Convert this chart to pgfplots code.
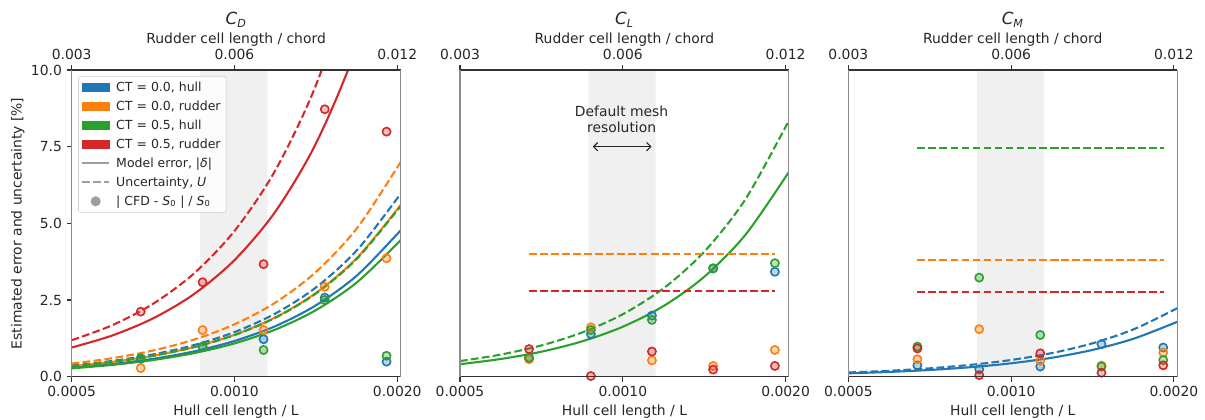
\documentclass[border=0pt]{standalone}
\usepackage{fontspec}
\setmainfont{DejaVu Sans}
\usepackage{pgfplots}
\pgfplotsset{compat=1.18}
\usetikzlibrary{arrows.meta}
\definecolor{c0}{HTML}{1F77B4}
\definecolor{c1}{HTML}{FF7F0E}
\definecolor{c2}{HTML}{2CA02C}
\definecolor{c3}{HTML}{D62728}
\definecolor{txt}{HTML}{262626}
\definecolor{shade}{HTML}{F0F0F0}
\definecolor{leggray}{HTML}{9E9E9E}
\tikzset{
  toplab/.style={anchor=base, yshift=7.2pt, font=\fontsize{10}{12}\selectfont, text=txt},
  topxl/.style={anchor=base, yshift=19.2pt, font=\fontsize{10}{12}\selectfont, text=txt},
  toptitle/.style={anchor=base, yshift=32.4pt, font=\fontsize{12}{14}\selectfont, text=txt},
}
\pgfplotsset{
  sol/.style={line width=1.5pt, smooth, forget plot},
  das/.style={line width=1.5pt, smooth, forget plot, dash pattern=on 5.55pt off 2.4pt},
  pts/.style={only marks, forget plot, mark=*, mark size=2.95pt, mark options={draw=#1, fill=#1, fill opacity=0.3, line width=1.15pt}},
  shd/.style={fill=shade, draw=none, forget plot},
}
\begin{document}
\begin{tikzpicture}
\useasboundingbox (0,0) rectangle (867.6pt,302.4pt);
% ---------------- Panel 1: C_D ----------------
\begin{axis}[at={(51.6pt,31.2pt)},
    width=236.8pt, height=220.8pt, scale only axis, anchor=south west,
    xmode=log, xmin=0.0005, xmax=0.002028, ymin=0, ymax=10,
    clip mode=individual,
    tick align=outside, major tick length=3.5pt,
    xminorticks=false, yminorticks=false,
    tick label style={font=\fontsize{10}{12}\selectfont, text=txt},
    tick style={color=black!80, line width=0.8pt},
    xtick={0.0005,0.001,0.002},
    axis on top, separate axis lines,
    x axis line style={black!80, line width=0.8pt},
    y axis line style={black!45, line width=0.8pt},
    xtick pos=both, xticklabel pos=left, xticklabels={0.0005,0.0010,0.0020},
    xlabel={Hull cell length / L},
    xlabel style={at={(axis description cs:0.5,0)}, anchor=base, yshift=-28.3pt, font=\fontsize{10}{12}\selectfont, text=txt},
  ytick={0,2.5,5,7.5,10}, yticklabels={0.0,2.5,5.0,7.5,10.0}, ytick pos=left,
  ylabel={Estimated error and uncertainty [\%]},
  ylabel style={at={(axis description cs:-0.164,0.5)}, anchor=center, font=\fontsize{10}{12}\selectfont, text=txt},
  legend style={at={(axis description cs:0,1)}, anchor=north west, xshift=4.75pt, yshift=-4.3pt,
    draw=black!20, rounded corners=2pt, fill=white, fill opacity=0.8, text opacity=1,
    font=\fontsize{9}{11}\selectfont, text=txt, row sep=1.3pt, inner sep=2pt},
  legend cell align=left]
\addplot[shd] coordinates {(0.000864,0) (0.000864,10) (0.00115,10) (0.00115,0)} \closedcycle;
\addplot[c0, sol] coordinates {(0.0005,0.2906) (0.0005946,0.4110) (0.0007071,0.5812) (0.0008409,0.8219) (0.001,1.1624) (0.0011892,1.6439) (0.0014142,2.3248) (0.0016818,3.2878) (0.002,4.6496) (0.00204,4.8373)};
\addplot[c0, das] coordinates {(0.0005,0.3633) (0.0005946,0.5138) (0.0007071,0.7266) (0.0008409,1.0276) (0.001,1.4532) (0.0011892,2.0551) (0.0014142,2.9064) (0.0016818,4.1103) (0.002,5.8128) (0.00204,6.0475)};
\addplot[c1, sol] coordinates {(0.0005,0.341) (0.0005946,0.4822) (0.0007071,0.682) (0.0008409,0.9645) (0.001,1.364) (0.0011892,1.929) (0.0014142,2.728) (0.0016818,3.858) (0.002,5.456) (0.00204,5.676)};
\addplot[c1, das] coordinates {(0.0005,0.4263) (0.0005946,0.6029) (0.0007071,0.8526) (0.0008409,1.2058) (0.001,1.7052) (0.0011892,2.4115) (0.0014142,3.4104) (0.0016818,4.8230) (0.002,6.8208) (0.00204,7.0962)};
\addplot[c2, sol] coordinates {(0.0005,0.271) (0.0005946,0.3833) (0.0007071,0.542) (0.0008409,0.7665) (0.001,1.084) (0.0011892,1.533) (0.0014142,2.168) (0.0016818,3.066) (0.002,4.336) (0.00204,4.511)};
\addplot[c2, das] coordinates {(0.0005,0.3388) (0.0005946,0.4791) (0.0007071,0.6776) (0.0008409,0.9583) (0.001,1.3552) (0.0011892,1.9166) (0.0014142,2.7104) (0.0016818,3.8331) (0.002,5.4208) (0.00204,5.6397)};
\addplot[c3, sol] coordinates {(0.0005,0.95) (0.0005946,1.3435) (0.0007071,1.9) (0.0008409,2.687) (0.001,3.8) (0.0011892,5.374) (0.0014142,7.6) (0.0016818,10.748) (0.002,15.2)};
\addplot[c3, das] coordinates {(0.0005,1.1875) (0.0005946,1.6794) (0.0007071,2.375) (0.0008409,3.3588) (0.001,4.75) (0.0011892,6.7175) (0.0014142,9.5) (0.0016818,13.435) (0.002,19.0)};
\addplot[pts=c0] coordinates {(0.000671,0.58) (0.000873,0.98) (0.001132,1.22) (0.001469,2.58) (0.001911,0.49)};
\addplot[pts=c1] coordinates {(0.000671,0.28) (0.000873,1.52) (0.001132,1.52) (0.001469,2.93) (0.001911,3.86)};
\addplot[pts=c2] coordinates {(0.000671,0.60) (0.000873,0.98) (0.001132,0.87) (0.001469,2.50) (0.001911,0.68)};
\addplot[pts=c3] coordinates {(0.000671,2.12) (0.000873,3.08) (0.001132,3.67) (0.001469,8.72) (0.001911,7.99)};
\addlegendimage{legend image code/.code={\path[draw=none, fill=none] (0pt,-3pt) rectangle (22.4pt,3pt); \fill[c0, sharp corners, fill opacity=1] (0pt,-3pt) rectangle (19.2pt,3pt);}}
\addlegendentry{CT = 0.0, hull}
\addlegendimage{legend image code/.code={\path[draw=none, fill=none] (0pt,-3pt) rectangle (22.4pt,3pt); \fill[c1, sharp corners, fill opacity=1] (0pt,-3pt) rectangle (19.2pt,3pt);}}
\addlegendentry{CT = 0.0, rudder}
\addlegendimage{legend image code/.code={\path[draw=none, fill=none] (0pt,-3pt) rectangle (22.4pt,3pt); \fill[c2, sharp corners, fill opacity=1] (0pt,-3pt) rectangle (19.2pt,3pt);}}
\addlegendentry{CT = 0.5, hull}
\addlegendimage{legend image code/.code={\path[draw=none, fill=none] (0pt,-3pt) rectangle (22.4pt,3pt); \fill[c3, sharp corners, fill opacity=1] (0pt,-3pt) rectangle (19.2pt,3pt);}}
\addlegendentry{CT = 0.5, rudder}
\addlegendimage{legend image code/.code={\path[draw=none, fill=none] (0pt,-3pt) rectangle (22.4pt,3pt); \draw[leggray, sharp corners, line width=1.5pt] (0pt,0pt) -- (19.2pt,0pt);}}
\addlegendentry{Model error, |\textit{δ}|}
\addlegendimage{legend image code/.code={\path[draw=none, fill=none] (0pt,-3pt) rectangle (22.4pt,3pt); \draw[leggray, sharp corners, line width=1.5pt, dash pattern=on 5.55pt off 2.4pt] (0pt,0pt) -- (19.2pt,0pt);}}
\addlegendentry{Uncertainty, \textit{U}}
\addlegendimage{legend image code/.code={\path[draw=none, fill=none] (0pt,-3pt) rectangle (22.4pt,3pt); \fill[leggray, fill opacity=1] (9.6pt,0pt) circle (3.4pt);}}
\addlegendentry{| CFD - \textit{S}\textsubscript{0} | / \textit{S}\textsubscript{0}}
\node[toplab] at (axis cs:0.0005,10) {0.003};
\node[toplab] at (axis cs:0.001,10) {0.006};
\node[toplab] at (axis cs:0.002,10) {0.012};
\node[topxl] at (rel axis cs:0.5,1) {Rudder cell length / chord};
\node[toptitle] at (rel axis cs:0.5,1) {\textit{C}\textsubscript{\textit{D}}};
\end{axis}
% ---------------- Panel 2: C_L ----------------
\begin{axis}[at={(331.2pt,31.2pt)},
    width=236.8pt, height=220.8pt, scale only axis, anchor=south west,
    xmode=log, xmin=0.0005, xmax=0.002028, ymin=0, ymax=10,
    clip mode=individual,
    tick align=outside, major tick length=3.5pt,
    xminorticks=false, yminorticks=false,
    tick label style={font=\fontsize{10}{12}\selectfont, text=txt},
    tick style={color=black!80, line width=0.8pt},
    xtick={0.0005,0.001,0.002},
    axis on top, separate axis lines,
    x axis line style={black!80, line width=0.8pt},
    y axis line style={black!45, line width=0.8pt},
    xtick pos=both, xticklabel pos=left, xticklabels={0.0005,0.0010,0.0020},
    xlabel={Hull cell length / L},
    xlabel style={at={(axis description cs:0.5,0)}, anchor=base, yshift=-28.3pt, font=\fontsize{10}{12}\selectfont, text=txt},
    ytick=\empty]
\addplot[shd] coordinates {(0.000864,0) (0.000864,10) (0.00115,10) (0.00115,0)} \closedcycle;
\addplot[c2, sol] coordinates {(0.0005,0.407) (0.0005946,0.5756) (0.0007071,0.814) (0.0008409,1.1512) (0.001,1.628) (0.0011892,2.3024) (0.0014142,3.256) (0.0016818,4.6047) (0.002,6.512) (0.00204,6.775)};
\addplot[c2, das] coordinates {(0.0005,0.509) (0.0005946,0.7198) (0.0007071,1.018) (0.0008409,1.4397) (0.001,2.036) (0.0011892,2.8794) (0.0014142,4.072) (0.0016818,5.7587) (0.002,8.144) (0.00204,8.473)};
\addplot[c1, das] coordinates {(0.000671,4.0) (0.001911,4.0)};
\addplot[c3, das] coordinates {(0.000671,2.79) (0.001911,2.79)};
\addplot[pts=c0] coordinates {(0.000671,0.60) (0.000873,1.39) (0.001132,1.99) (0.001469,3.53) (0.001911,3.42)};
\addplot[pts=c1] coordinates {(0.000671,0.57) (0.000873,1.61) (0.001132,0.53) (0.001469,0.35) (0.001911,0.87)};
\addplot[pts=c2] coordinates {(0.000671,0.62) (0.000873,1.52) (0.001132,1.85) (0.001469,3.53) (0.001911,3.70)};
\addplot[pts=c3] coordinates {(0.000671,0.90) (0.000873,0.02) (0.001132,0.82) (0.001469,0.23) (0.001911,0.35)};
\draw[{Straight Barb[length=3pt]}-{Straight Barb[length=3pt]}, black!85, line width=0.8pt] (axis cs:0.00088,7.5) -- (axis cs:0.00113,7.5);
\node[align=center, font=\fontsize{10}{11.5}\selectfont, text=txt, anchor=south] at (axis cs:0.000995,7.8) {Default mesh\\resolution};
\node[toplab] at (axis cs:0.0005,10) {0.003};
\node[toplab] at (axis cs:0.001,10) {0.006};
\node[toplab] at (axis cs:0.002,10) {0.012};
\node[topxl] at (rel axis cs:0.5,1) {Rudder cell length / chord};
\node[toptitle] at (rel axis cs:0.5,1) {\textit{C}\textsubscript{\textit{L}}};
\end{axis}
% ---------------- Panel 3: C_M ----------------
\begin{axis}[at={(610.8pt,31.2pt)},
    width=236.8pt, height=220.8pt, scale only axis, anchor=south west,
    xmode=log, xmin=0.0005, xmax=0.002028, ymin=0, ymax=10,
    clip mode=individual,
    tick align=outside, major tick length=3.5pt,
    xminorticks=false, yminorticks=false,
    tick label style={font=\fontsize{10}{12}\selectfont, text=txt},
    tick style={color=black!80, line width=0.8pt},
    xtick={0.0005,0.001,0.002},
    axis on top, separate axis lines,
    x axis line style={black!80, line width=0.8pt},
    y axis line style={black!45, line width=0.8pt},
    xtick pos=both, xticklabel pos=left, xticklabels={0.0005,0.0010,0.0020},
    xlabel={Hull cell length / L},
    xlabel style={at={(axis description cs:0.5,0)}, anchor=base, yshift=-28.3pt, font=\fontsize{10}{12}\selectfont, text=txt},
    ytick=\empty]
\addplot[shd] coordinates {(0.000864,0) (0.000864,10) (0.00115,10) (0.00115,0)} \closedcycle;
\addplot[c0, sol] coordinates {(0.0005,0.109) (0.0005946,0.1541) (0.0007071,0.218) (0.0008409,0.3083) (0.001,0.436) (0.0011892,0.6166) (0.0014142,0.872) (0.0016818,1.2332) (0.002,1.744) (0.00204,1.8144)};
\addplot[c0, das] coordinates {(0.0005,0.136) (0.0005946,0.1923) (0.0007071,0.272) (0.0008409,0.3847) (0.001,0.544) (0.0011892,0.7693) (0.0014142,1.088) (0.0016818,1.5387) (0.002,2.176) (0.00204,2.2639)};
\addplot[c2, das] coordinates {(0.000671,7.46) (0.001911,7.46)};
\addplot[c1, das] coordinates {(0.000671,3.80) (0.001911,3.80)};
\addplot[c3, das] coordinates {(0.000671,2.76) (0.001911,2.76)};
\addplot[pts=c0] coordinates {(0.000671,0.37) (0.000873,0.24) (0.001132,0.33) (0.001469,1.06) (0.001911,0.95)};
\addplot[pts=c1] coordinates {(0.000671,0.57) (0.000873,1.55) (0.001132,0.52) (0.001469,0.36) (0.001911,0.79)};
\addplot[pts=c2] coordinates {(0.000671,0.98) (0.000873,3.23) (0.001132,1.36) (0.001469,0.33) (0.001911,0.54)};
\addplot[pts=c3] coordinates {(0.000671,0.92) (0.000873,0.05) (0.001132,0.76) (0.001469,0.13) (0.001911,0.37)};
\node[toplab] at (axis cs:0.0005,10) {0.003};
\node[toplab] at (axis cs:0.001,10) {0.006};
\node[toplab] at (axis cs:0.002,10) {0.012};
\node[topxl] at (rel axis cs:0.5,1) {Rudder cell length / chord};
\node[toptitle] at (rel axis cs:0.5,1) {\textit{C}\textsubscript{\textit{M}}};
\end{axis}
\end{tikzpicture}
\end{document}
